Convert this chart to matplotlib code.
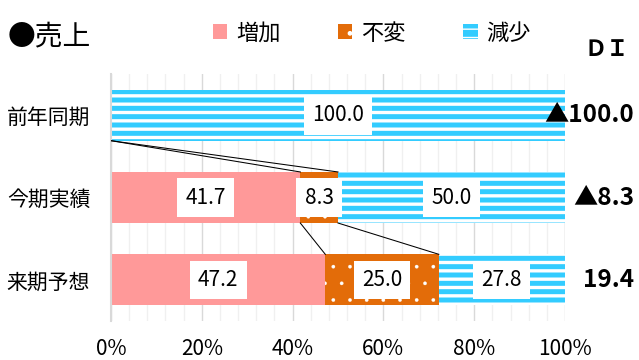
import matplotlib
matplotlib.use('Agg')
import matplotlib.pyplot as plt
import numpy as np
from matplotlib import transforms
from matplotlib.patches import Patch

plt.rcParams['font.family'] = ['Noto Sans CJK JP', 'DejaVu Sans']

# ---- data ----
categories = ['前年同期', '今期実績', '来期予想']
series_names = ['増加', '不変', '減少']
increase = [0.0, 41.7, 47.2]
unchanged = [0.0, 8.3, 25.0]
decrease = [100.0, 50.0, 27.8]
di_labels = ['▲100.0', '▲8.3', '19.4']
xticks = [0, 20, 40, 60, 80, 100]
xtick_labels = ['0%', '20%', '40%', '60%', '80%', '100%']
title = '●売上'
di_title = 'ＤＩ'

pink = '#FF9999'
orange = '#E36C09'
cyan = '#33CCFF'

fig = plt.figure(figsize=(6.39, 3.6), dpi=100)
ax = fig.add_axes([111/639, 1-321/360, 454/639, 247/360])

y = np.arange(len(categories))
h = 0.62

b1 = ax.barh(y, increase, height=h, color=pink, linewidth=0, zorder=2)
b2 = ax.barh(y, unchanged, left=increase, height=h, color=orange,
             edgecolor='white', linewidth=0, hatch='.', zorder=2)
left3 = np.add(increase, unchanged)
b3 = ax.barh(y, decrease, left=left3, height=h, color=cyan,
             edgecolor='white', linewidth=0, hatch='--', zorder=2)
for p in b2:
    if hasattr(p, 'set_hatch_linewidth'):
        p.set_hatch_linewidth(0.2)
for p in b3:
    if hasattr(p, 'set_hatch_linewidth'):
        p.set_hatch_linewidth(2.4)

# data labels
for bars, vals in [(b1, increase), (b2, unchanged), (b3, decrease)]:
    labs = [f'{v:.1f}' if v > 0 else '' for v in vals]
    ax.bar_label(bars, labels=labs, label_type='center', fontsize=15,
                 color='black', zorder=5,
                 bbox=dict(boxstyle='square,pad=0.4', fc='white', ec='none'))

# series lines
cum1 = np.array(increase)
cum2 = cum1 + np.array(unchanged)
cum3 = cum2 + np.array(decrease)
for i in range(len(categories) - 1):
    for cum in (cum1, cum2, cum3):
        ax.plot([cum[i], cum[i+1]], [y[i] + h/2, y[i+1] - h/2],
                color='black', lw=0.75, zorder=3)

# axes styling
ax.set_xlim(0, 100)
ax.set_ylim(len(categories) - 0.5, -0.5)
ax.set_xticks(xticks)
ax.set_xticklabels(xtick_labels, fontsize=15)
ax.set_xticks(np.arange(0, 101, 4), minor=True)
ax.grid(which='major', axis='x', color='#D9D9D9', lw=1.0, zorder=0)
ax.grid(which='minor', axis='x', color='#F0F0F0', lw=1.0, zorder=0)
ax.set_axisbelow(True)
ax.tick_params(axis='x', which='both', length=0, pad=12)
ax.set_yticks(y)
ax.set_yticklabels(categories, fontsize=15, ha='left')
ax.tick_params(axis='y', length=0, pad=75)
for s in ['top', 'right', 'bottom']:
    ax.spines[s].set_visible(False)
ax.spines['left'].set_color('#D9D9D9')
ax.spines['left'].set_linewidth(1.5)

# DI labels
trans = transforms.blended_transform_factory(fig.transFigure, ax.transData)
for yi, lab in zip(y, di_labels):
    ax.text(634/639, yi, lab, transform=trans, ha='right', va='center',
            fontsize=17.5, fontweight='bold', clip_on=False)

fig.text(8/639, 1-36/360, title, fontsize=20, ha='left', va='center')
fig.text(607/639, 1-49/360, di_title, fontsize=16, fontweight='bold',
         ha='center', va='center')

handles = [
    Patch(facecolor=pink, linewidth=0),
    Patch(facecolor=orange, edgecolor='white', linewidth=0, hatch='.'),
    Patch(facecolor=cyan, edgecolor='white', linewidth=0, hatch='--'),
]
fig.legend(handles, series_names, loc='center left',
           bbox_to_anchor=(213/639, 1-33/360), ncol=3, frameon=False,
           fontsize=16, handlelength=0.64, handleheight=0.64,
           handletextpad=0.4, columnspacing=2.59, borderpad=0,
           borderaxespad=0)

fig.savefig('out.png', dpi=100)
